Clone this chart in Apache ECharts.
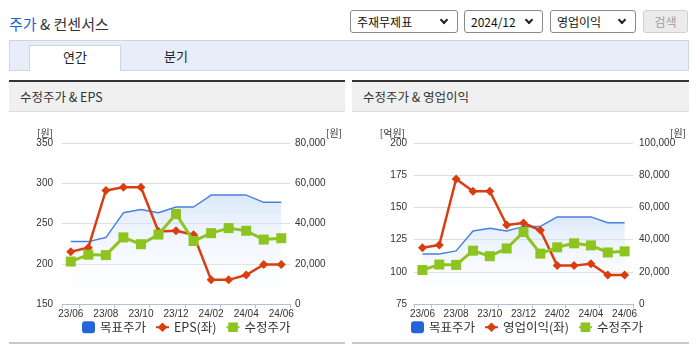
<!DOCTYPE html>
<html>
<head>
<meta charset="utf-8">
<script src="https://cdn.jsdelivr.net/npm/echarts@6/dist/echarts.min.js"></script>
<style>
  html, body { margin: 0; padding: 0; background: #fff; }
  body { width: 695px; height: 349px; position: relative; overflow: hidden;
         font-family: "Noto Sans CJK KR", "Noto Sans", sans-serif; color: #333; }
  .abs { position: absolute; }
  #title { left: 9px; top: 13px; font-size: 15px; color: #333; white-space: nowrap; }
  #title .b { color: #1f5fd0; }
  .sel { position: absolute; top: 10px; height: 23px; box-sizing: border-box; border: 1px solid #8a8a8a;
         border-radius: 3px; background: #fff; font-size: 12px; line-height: 21px; padding-left: 6px; color: #111; }
  .sel .chev { position: absolute; right: 10px; top: 6px; width: 4px; height: 4px;
               border-right: 2px solid #222; border-bottom: 2px solid #222; transform: rotate(45deg); }
  #btn { position: absolute; left: 643px; top: 10px; width: 45px; height: 23px; box-sizing: border-box;
         border: 1px solid #cfcfcf; border-radius: 3px; background: #ebebeb; color: #a0a0a0;
         font-size: 12px; line-height: 21px; text-align: center; }
  #tabbar { left: 9px; top: 40px; width: 680px; height: 31px; box-sizing: border-box; background: #e8eef9;
            border: 1px solid #cdd5e3; }
  #tab1 { left: 29px; top: 45px; width: 92px; height: 26px; box-sizing: border-box; background: #fff;
          border: 1px solid #cdd5e3; border-bottom: none; font-size: 13px; text-align: center; line-height: 22px; color: #222; }
  #tab2 { left: 130px; top: 45px; width: 92px; height: 26px; font-size: 13px; text-align: center; line-height: 22px; color: #222; }
  .panel { position: absolute; top: 80px; height: 264px; }
  .phead { position: absolute; left: 0; top: 0; right: 0; height: 32px; box-sizing: border-box;
           border-top: 2px solid #333; border-bottom: 1px solid #dcdcdc; background: #f0f0f0;
           font-size: 12.5px; line-height: 29px; padding-left: 11px; color: #333; }
  .pfoot { position: absolute; left: 0; right: 0; top: 262px; height: 2px; background: #c8c8c8; }
  .chart { position: absolute; left: 0; top: 33px; width: 100%; height: 229px; }
</style>
</head>
<body>
<div id="title" class="abs"><span class="b">주가</span> &amp; 컨센서스</div>
<div class="sel" style="left:350px;width:108px;">주재무제표<span class="chev"></span></div>
<div class="sel" style="left:464px;width:79px;">2024/12<span class="chev"></span></div>
<div class="sel" style="left:550px;width:86px;">영업이익<span class="chev"></span></div>
<div id="btn">검색</div>
<div id="tabbar" class="abs"></div>
<div id="tab1" class="abs">연간</div>
<div id="tab2" class="abs">분기</div>

<div class="panel" style="left:9px;width:336px;">
  <div class="phead">수정주가 &amp; EPS</div>
  <div id="c1" class="chart"></div>
  <div class="pfoot"></div>
</div>
<div class="panel" style="left:352px;width:337px;">
  <div class="phead">수정주가 &amp; 영업이익</div>
  <div id="c2" class="chart"></div>
  <div class="pfoot"></div>
</div>

<script>
// ---- data ----
const categories = ['23/06','23/07','23/08','23/09','23/10','23/11','23/12','24/01','24/02','24/03','24/04','24/05','24/06'];
const targetPrice = [31000, 31000, 33000, 45300, 47000, 45300, 48200, 48200, 54100, 54100, 54100, 50500, 50500];
const adjPrice    = [21100, 24500, 24300, 33100, 29700, 34500, 44700, 31300, 35200, 37700, 36400, 32000, 32700];
const eps         = [215, 220, 291, 295, 295, 240, 241, 236, 180, 180, 186, 199, 199];
const opProfit    = [118.7, 120.8, 172, 162.5, 162.5, 136.3, 137.9, 132.2, 104.8, 104.8, 106.3, 97.5, 97.5];

const leftAxis1  = { min: 150, max: 350, interval: 50 };
const rightAxis1 = { min: 0, max: 80000, interval: 20000 };
const leftAxis2  = { min: 75, max: 200, interval: 25 };
const rightAxis2 = { min: 0, max: 100000, interval: 20000 };

const numFont = '"Liberation Sans Narrow", "Liberation Sans", Arial, sans-serif';
const krFont = '"Noto Sans CJK KR", sans-serif';

function makeOption(cfg) {
  return {
    animation: false,
    grid: { left: cfg.gridLeft, top: 30, width: cfg.gridWidth, height: 161 },
    legend: {
      left: cfg.legendLeft, top: 208, padding: 0, itemGap: 9,
      itemWidth: 13, itemHeight: 12,
      textStyle: { fontSize: 12.5, color: '#333', fontFamily: krFont },
      data: [
        { name: '목표주가', icon: 'roundRect' },
        { name: cfg.leftName },
        { name: '수정주가' }
      ]
    },
    xAxis: {
      type: 'category', data: categories, boundaryGap: true,
      axisLine: { lineStyle: { color: '#b3c1d6', width: 1 } },
      axisTick: { show: true, length: 4, lineStyle: { color: '#b3c1d6' },
                  interval: function (i) { return i === 0 || i % 2 === 1; } },
      axisLabel: { interval: 1, fontSize: 10, color: '#333', margin: 5, fontFamily: numFont }
    },
    yAxis: [
      {
        type: 'value', min: cfg.lAxis.min, max: cfg.lAxis.max, interval: cfg.lAxis.interval,
        name: cfg.lUnit, nameGap: 5,
        nameTextStyle: { fontSize: 10, color: '#333', align: 'right', padding: [0, 9, 0, 0], fontFamily: krFont },
        axisLine: { show: false }, axisTick: { show: false },
        axisLabel: { fontSize: 10, color: '#333', margin: cfg.lMargin, fontFamily: numFont },
        splitLine: { lineStyle: { color: '#dedede' } }
      },
      {
        type: 'value', min: cfg.rAxis.min, max: cfg.rAxis.max, interval: cfg.rAxis.interval,
        name: '[원]', nameGap: 5,
        nameTextStyle: { fontSize: 10, color: '#333', align: 'left', padding: [0, 0, 0, cfg.rNamePad], fontFamily: krFont },
        axisLine: { show: false }, axisTick: { show: false },
        axisLabel: { fontSize: 10, color: '#333', margin: cfg.rMargin, fontFamily: numFont },
        splitLine: { show: false }
      }
    ],
    series: [
      {
        name: '목표주가', type: 'line', yAxisIndex: 1, data: targetPrice,
        showSymbol: false, symbol: 'none', color: '#2466d9',
        lineStyle: { color: '#4a80de', width: 1.5 },
        areaStyle: {
          color: new echarts.graphic.LinearGradient(0, 0, 0, 1, [
            { offset: 0, color: 'rgba(196,218,247,0.85)' },
            { offset: 1, color: 'rgba(255,255,255,0.1)' }
          ])
        },
        z: 1
      },
      {
        name: cfg.leftName, type: 'line', yAxisIndex: 0, data: cfg.leftData,
        symbol: 'diamond', symbolSize: 9, color: '#d83e10',
        lineStyle: { color: '#d83e10', width: 2.5 },
        itemStyle: { color: '#d83e10' },
        z: 3
      },
      {
        name: '수정주가', type: 'line', yAxisIndex: 1, data: adjPrice,
        symbol: 'rect', symbolSize: 10, color: '#8dc41f',
        lineStyle: { color: '#8dc41f', width: 3 },
        itemStyle: { color: '#8dc41f' },
        z: 4
      }
    ]
  };
}

const c1 = echarts.init(document.getElementById('c1'), null, { renderer: 'canvas' });
c1.setOption(makeOption({
  gridLeft: 53, gridWidth: 230, legendLeft: 73,
  lAxis: leftAxis1, rAxis: rightAxis1, lUnit: '[원]', leftName: 'EPS(좌)', leftData: eps,
  lMargin: 9, rMargin: 5, rNamePad: 36
}));
const c2 = echarts.init(document.getElementById('c2'), null, { renderer: 'canvas' });
c2.setOption(makeOption({
  gridLeft: 62, gridWidth: 221, legendLeft: 59,
  lAxis: leftAxis2, rAxis: rightAxis2, lUnit: '[억원]', leftName: '영업이익(좌)', leftData: opProfit,
  lMargin: 7, rMargin: 6, rNamePad: 37
}));
</script>
</body>
</html>
